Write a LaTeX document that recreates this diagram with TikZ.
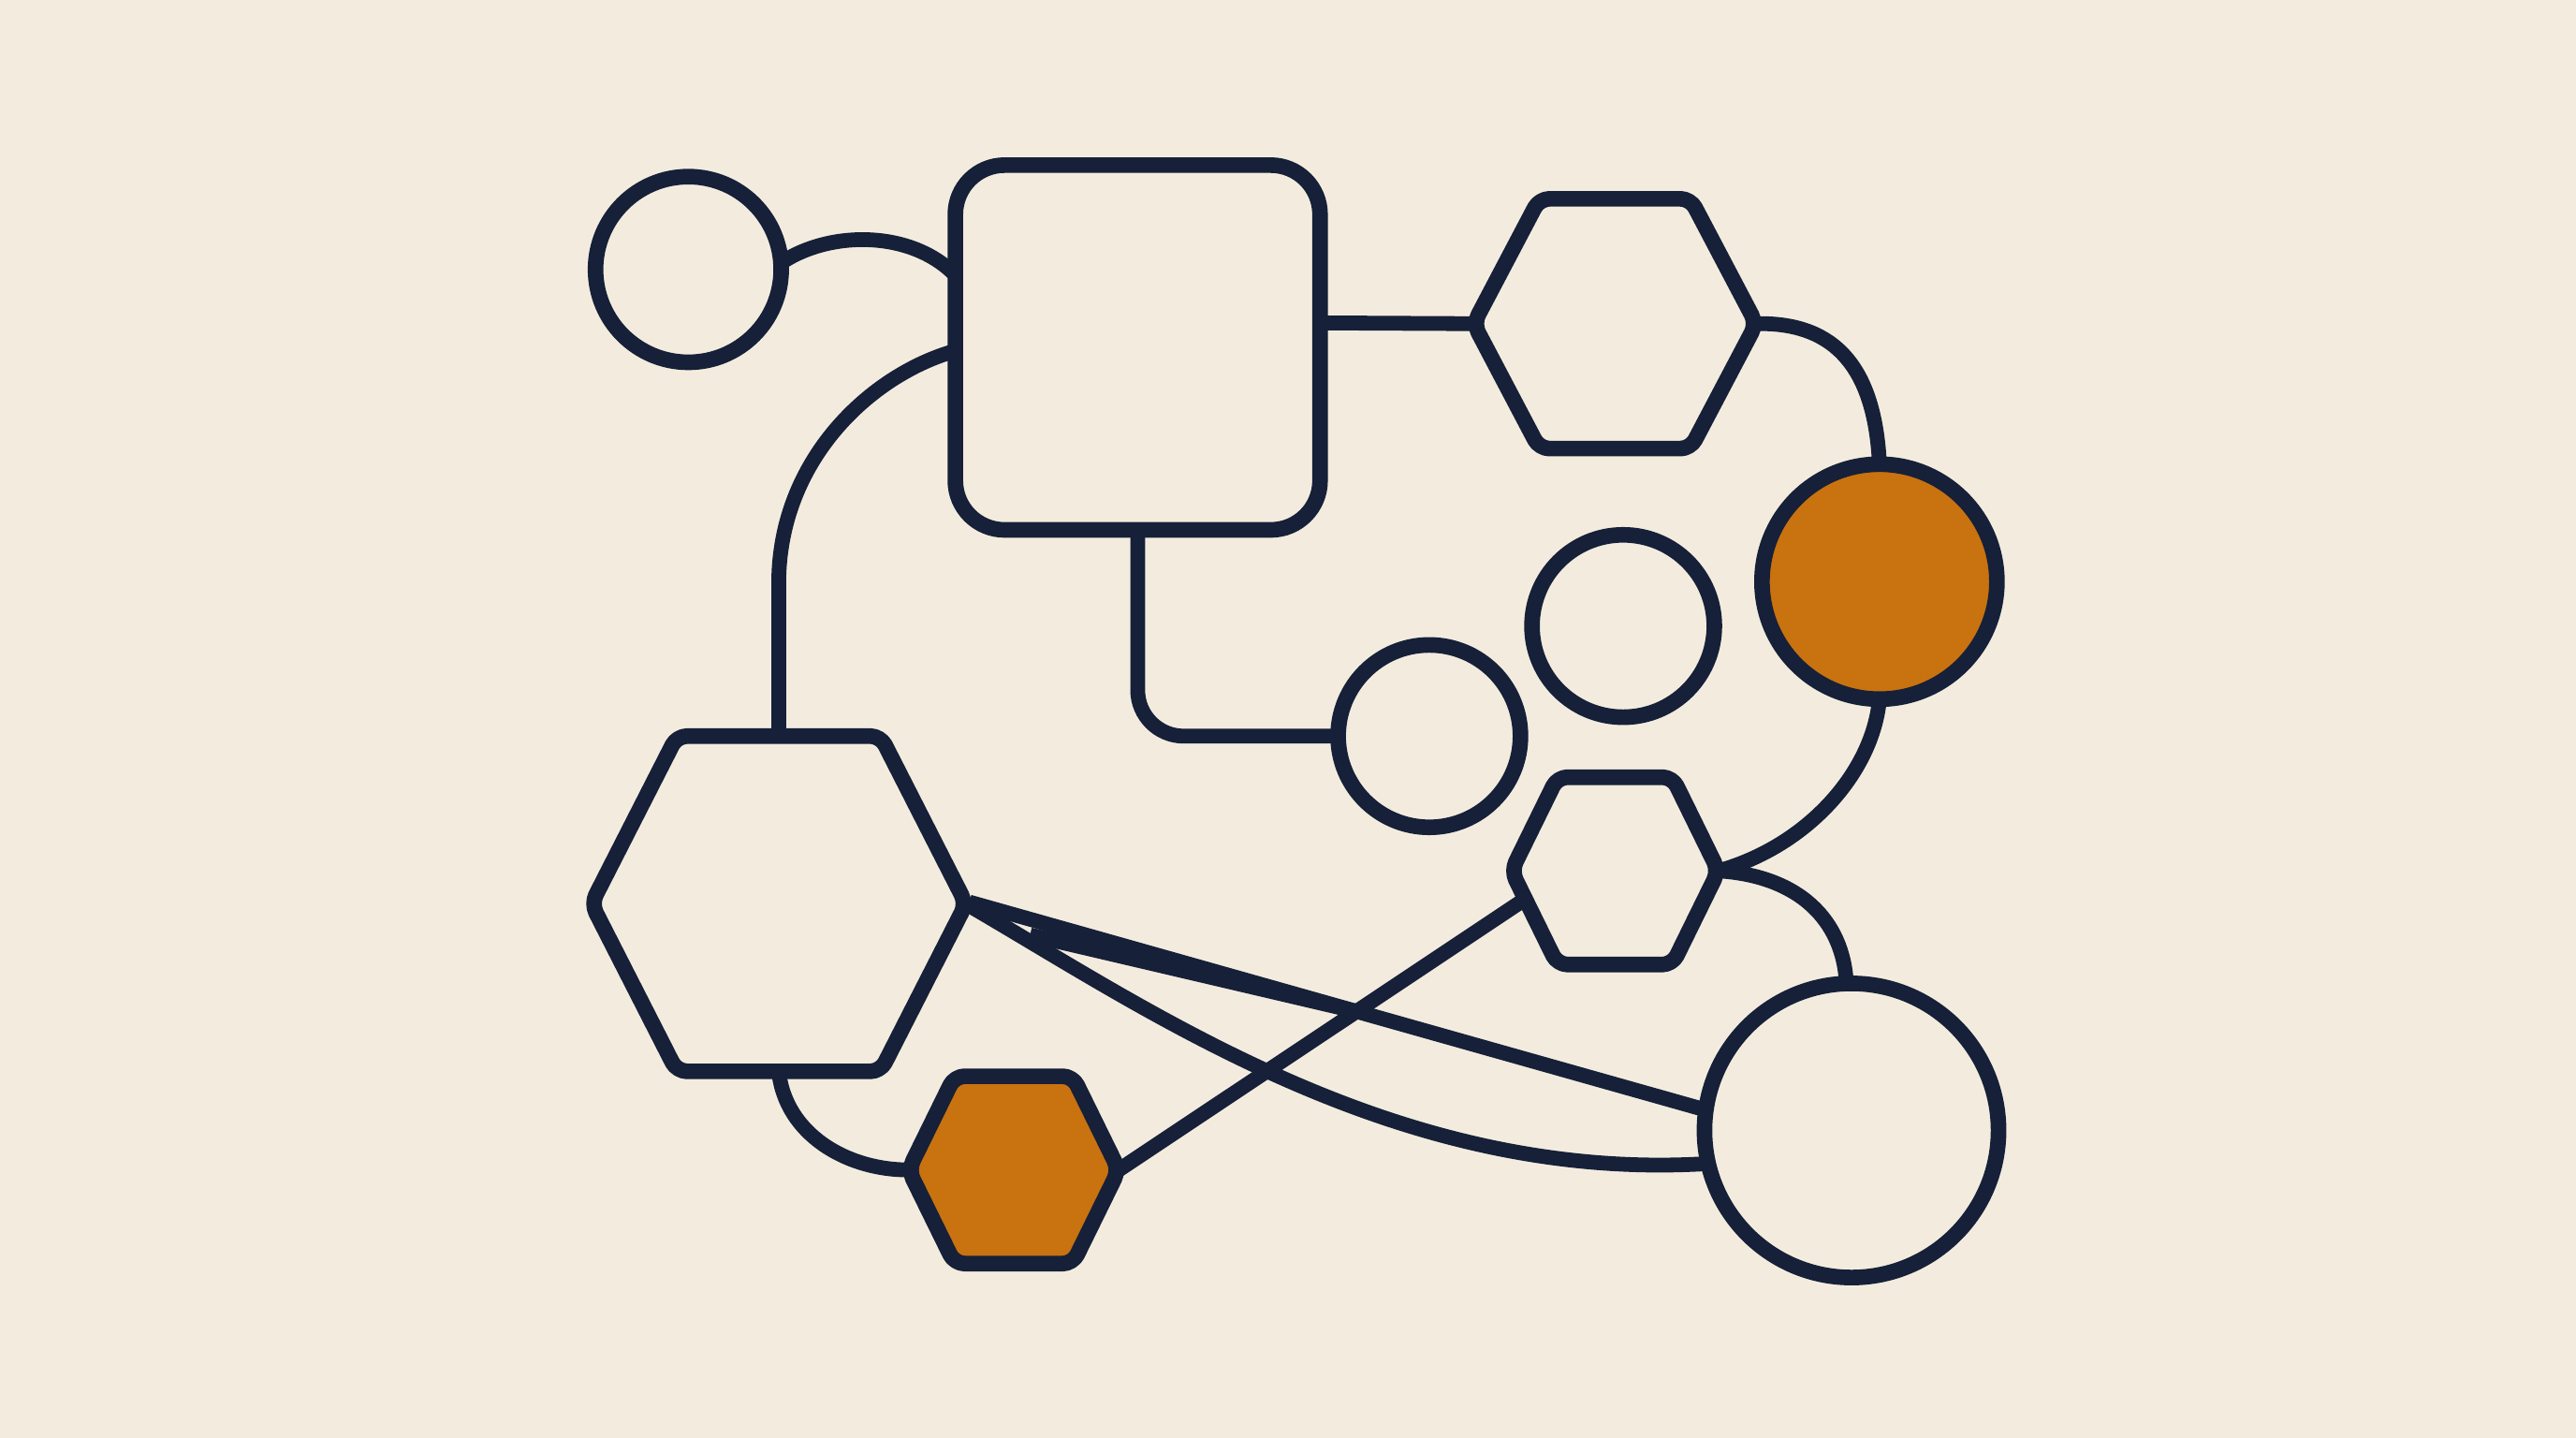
\documentclass[tikz,border=0pt]{standalone}
\usetikzlibrary{calc}
\definecolor{bgc}{RGB}{243,236,222}
\definecolor{ink}{RGB}{22,32,56}
\definecolor{amber}{RGB}{200,114,16}
\pgfdeclarelayer{back}
\pgfsetlayers{back,main}
\newcommand\hexshape[6]{%
  \coordinate (#1) at (#2);
  \coordinate (#1-l) at ($(#1)+(-#3,0)$);
  \coordinate (#1-r) at ($(#1)+(#3,0)$);
  \coordinate (#1-tl) at ($(#1)+(-#4,-#5)$);
  \coordinate (#1-tr) at ($(#1)+(#4,-#5)$);
  \coordinate (#1-br) at ($(#1)+(#4,#5)$);
  \coordinate (#1-bl) at ($(#1)+(-#4,#5)$);
  \coordinate (#1-n) at ($(#1)+(0,-#5)$);
  \coordinate (#1-s) at ($(#1)+(0,#5)$);
  \draw[shp, fill=#6, rounded corners=6pt] (#1-l) -- (#1-tl) -- (#1-tr) -- (#1-r) -- (#1-br) -- (#1-bl) -- cycle;
}
\begin{document}
\begin{tikzpicture}[x=1pt,y=-1pt, line join=round,
  shp/.style={draw=ink, line width=9.5pt, fill=bgc},
  wire/.style={draw=ink, line width=9pt},
  circ/.style={shp, circle, inner sep=0pt, outer sep=0pt},
]
\begin{pgfonlayer}{back}
\fill[bgc] (0,0) rectangle (1568,875);
\end{pgfonlayer}
\useasboundingbox (0,0) rectangle (1568,875);

% shapes
\node[circ, minimum size=113pt] (C1) at (419,164) {};
\node[shp, rectangle, rounded corners=30pt, minimum width=222pt, minimum height=222pt, inner sep=0pt, outer sep=0pt] (R) at (692.5,211.5) {};
\node[circ, fill=amber, minimum size=143pt] (C2) at (1144,354) {};
\node[circ, minimum size=111pt] (C3) at (988,381) {};
\node[circ, minimum size=111pt] (C4) at (870,448) {};
\node[circ, minimum size=179pt] (C5) at (1127,688) {};
\hexshape{H1}{983,197}{86}{46}{76}{bgc}
\hexshape{H2}{983,530}{63}{35}{57}{bgc}
\hexshape{H3}{474,550}{114}{62}{102}{bgc}
\hexshape{H4}{617,712}{64}{36}{57}{amber}
\coordinate (W) at (627,569);

% connectors
\begin{pgfonlayer}{back}
\draw[wire] (C1.4) .. controls (505,140) and (555,140) .. ($(R.west)+(0,-44)$);
\draw[wire] ($(R.west)+(0,2)$) .. controls (530,228) and (474,280) .. (474,355) -- (H3-n);
\draw[wire] ($(R.east)+(0,-15)$) -- (H1-l);
\draw[wire, rounded corners=28pt] (R.south) |- (C4.west);
\draw[wire] (H1-r) .. controls (1112,196) and (1141,218) .. (C2.north);
\draw[wire] (C2.south) .. controls (1140,470) and (1100,515) .. (H2-r);
\draw[wire] (H2-r) .. controls (1095,533) and (1122,560) .. (C5.92);
\draw[wire] ($(H3-r)+(2,-1)$) -- coordinate[pos=0.528] (X1) (C5.172);
\draw[wire] (W) -- (X1);
\draw[wire] (H3-r) .. controls (700,615) and (850,720) .. (C5.193);
\draw[wire] ($(H2-l)!0.3!(H2-bl)$) -- (H4-r);
\draw[wire] (H3-s) .. controls (478,690) and (515,712) .. (H4-l);
\end{pgfonlayer}
\end{tikzpicture}
\end{document}
